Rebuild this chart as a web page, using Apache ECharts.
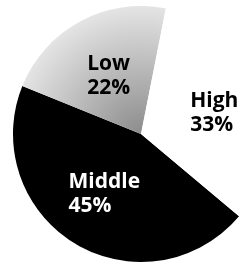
<!DOCTYPE html>
<html>
<head>
<meta charset="utf-8">
<script src="https://cdn.jsdelivr.net/npm/echarts@6/dist/echarts.min.js"></script>
<style>
  html, body { margin: 0; padding: 0; background: #fff; }
  #chart { width: 240px; height: 265px; }
</style>
</head>
<body>
<div id="chart"></div>
<script>
// 数据
const categories = ['Middle', 'Low', 'High'];
const shares = [45, 22, 33];

const sliceColors = [
  '#000000',
  // 低档区域：灰色网点，靠近圆心更密
  {
    type: 'radial', x: 141, y: 134, r: 128, global: true,
    colorStops: [
      { offset: 0, color: '#8c8c8c' },
      { offset: 1, color: '#e4e4e4' }
    ]
  },
  '#ffffff'
];
const labelColors = ['#ffffff', '#000000', '#000000'];
const labelShift = [[-38, 3], [-22, 1], [-14, 1]];

const myChart = echarts.init(document.getElementById('chart'));

const option = {
  animation: false,
  series: [
    {
      type: 'pie',
      center: [141, 134],
      radius: 128,
      startAngle: 320,
      clockwise: true,
      silent: true,
      emphasis: { disabled: true },
      itemStyle: { borderWidth: 0 },
      label: {
        show: true,
        position: 'inside',
        formatter: '{b}\n{c}%',
        fontFamily: 'Open Sans',
        fontWeight: 'bold',
        fontSize: 21,
        lineHeight: 24
      },
      labelLine: { show: false },
      labelLayout: function (p) {
        const s = labelShift[p.dataIndex];
        return {
          x: p.labelRect.x + p.labelRect.width / 2 + s[0],
          y: p.labelRect.y + p.labelRect.height / 2 + s[1],
          align: 'left',
          verticalAlign: 'middle'
        };
      },
      data: categories.map(function (name, i) {
        return {
          name: name,
          value: shares[i],
          itemStyle: { color: sliceColors[i] },
          label: { color: labelColors[i] }
        };
      })
    }
  ]
};

myChart.setOption(option);
</script>
</body>
</html>
